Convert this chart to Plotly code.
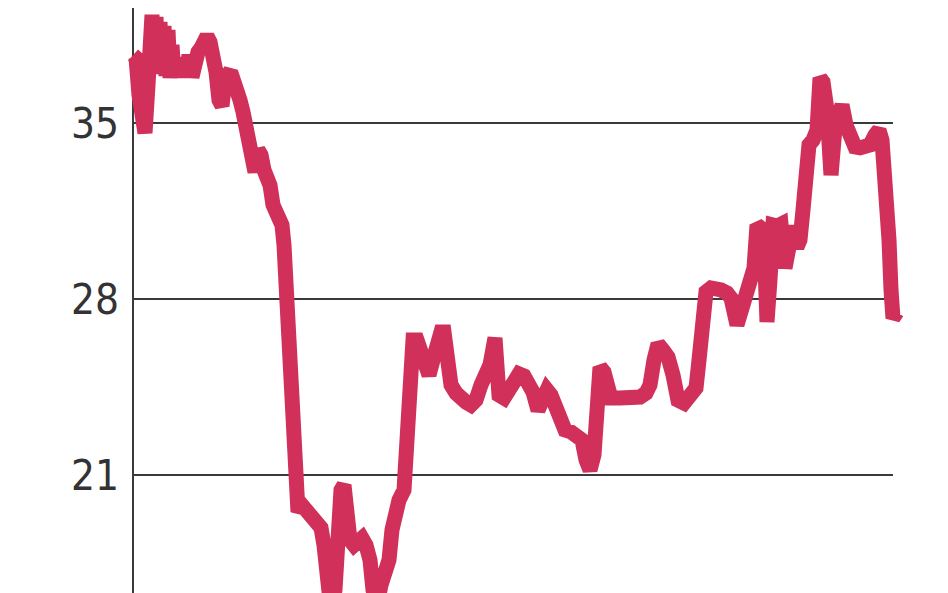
import plotly.graph_objects as go

# day index (left edge of series = 0) and values
days = [0, 3, 6, 9, 12, 15, 17, 19, 21, 23, 25, 27, 29, 31, 33, 35, 37, 39, 41, 44,
        47, 50, 53, 56, 59, 62, 65, 68, 71, 74,
        77, 80, 83, 86, 89, 92, 95, 99, 103, 107, 110, 113,
        116, 119, 122, 125, 128, 131, 134, 137, 140, 143, 146, 149, 151, 153, 155, 156, 159, 161, 163, 165,
        169, 173, 177, 181, 185, 188, 191, 194, 198, 202, 205, 208, 211, 214, 217, 221, 225, 229, 233, 237,
        240, 244, 248, 252, 256, 259, 262, 266, 271, 274, 277, 280, 284, 288, 292, 296, 300, 304, 308, 311,
        314, 318, 323, 328, 333, 338, 343, 348, 352, 357, 362, 366, 371, 376, 381, 386, 391, 395, 400, 405,
        409, 414, 418, 423, 427, 432, 438, 444, 449, 453, 457, 461, 464, 467, 471, 474, 478, 487, 497, 507,
        513, 517, 521, 525, 530, 535, 540, 545, 551, 557, 563, 566, 569, 573, 578, 583, 588, 594, 598, 604,
        608, 612, 617, 621, 624, 628, 631, 634, 637, 640, 644, 648, 652, 656, 660, 664, 667, 670, 673, 676,
        680, 684, 687, 690, 694, 698, 702, 705, 709, 713, 717, 722, 727, 732, 737, 742, 746, 749, 752, 754,
        756, 758, 760, 764]
values = [37.70, 37.59, 36.11, 34.92, 34.60, 36.51, 39.10, 39.30, 37.11, 39.22, 36.95, 39.02, 37.03, 38.86, 36.87, 38.70, 36.79, 38.10, 36.87, 37.51,
          36.83, 37.59, 36.91, 37.70, 36.83, 37.59, 37.82, 37.98, 38.30, 38.46,
          38.22, 37.70, 37.03, 35.91, 35.68, 36.71, 36.91, 36.87, 36.51, 35.91, 35.44, 34.80,
          34.13, 33.61, 33.05, 33.93, 33.73, 33.13, 32.93, 32.53, 31.74, 31.46, 31.46, 30.94, 30.15, 28.56, 27.17, 26.17, 25.97, 23.98, 21.20, 19.53,
          19.80, 19.61, 19.53, 19.21, 19.13, 18.90, 18.21, 16.63, 15.63, 16.43, 19.21, 20.40, 20.60, 19.21, 18.41, 18.21, 18.33, 18.49, 18.21, 17.62,
          16.43, 15.83, 16.63, 17.30, 17.62, 18.82, 19.80, 20.00, 20.40, 22.39, 25.17, 26.37, 26.37, 25.97, 25.38, 24.98, 25.57, 26.37, 26.69, 26.69,
          25.57, 24.58, 24.26, 23.98, 23.90, 23.78, 23.98, 24.58, 24.98, 25.38, 26.45, 24.18, 24.06, 24.46, 24.58, 25.02, 24.94, 24.66, 24.30, 23.58,
          23.98, 24.38, 24.18, 23.58, 22.99, 22.79, 22.71, 22.55, 22.39, 21.60, 21.20, 21.80, 23.58, 25.29, 25.10, 24.58, 24.06, 24.06, 24.06, 24.10,
          24.26, 24.58, 25.57, 26.21, 25.97, 25.69, 24.98, 23.98, 23.86, 24.26, 24.46, 25.57, 27.88, 28.28, 28.44, 28.44, 28.36, 28.24, 28.04, 26.97,
          27.56, 28.28, 28.68, 29.23, 30.94, 30.82, 30.35, 27.09, 28.76, 30.94, 30.90, 30.98, 29.23, 30.35, 30.90, 30.07, 30.35, 31.54, 32.93, 34.13,
          34.32, 34.72, 36.79, 36.63, 35.52, 32.93, 34.80, 35.52, 35.72, 34.92, 34.32, 34.05, 34.01, 34.09, 34.13, 34.52, 34.72, 34.32, 33.13, 32.14,
          30.35, 28.36, 27.24, 27.48]
tick_values = [21, 28, 35]
tick_labels = ["21", "28", "35"]
grid_end = 760

fig = go.Figure()
fig.add_trace(go.Scatter(
    x=days, y=values, mode="lines",
    line=dict(color="#D0305A", width=15),
    hoverinfo="skip", showlegend=False,
))

shapes = [dict(type="line", xref="x", yref="y", x0=0, x1=grid_end, y0=v, y1=v,
               line=dict(color="#3a3a3a", width=2), layer="below") for v in tick_values]
shapes.append(dict(type="line", xref="x", yref="paper", x0=0, x1=0, y0=0, y1=1,
                   line=dict(color="#3a3a3a", width=2), layer="below"))

fig.update_layout(
    width=940, height=585,
    margin=dict(l=116, r=0, t=0, b=0),
    paper_bgcolor="white", plot_bgcolor="white",
    shapes=shapes,
    xaxis=dict(range=[-9, 815], visible=False, fixedrange=True),
    yaxis=dict(range=[16.307, 39.574], tickvals=tick_values, ticktext=tick_labels,
               showgrid=False, zeroline=False, showline=False, ticks="",
               ticklabelstandoff=4,
               tickfont=dict(family="DejaVu Sans Condensed, Liberation Sans Narrow, Roboto, sans-serif",
                             size=42, color="#333333")),
)

fig.write_html("out.html")
